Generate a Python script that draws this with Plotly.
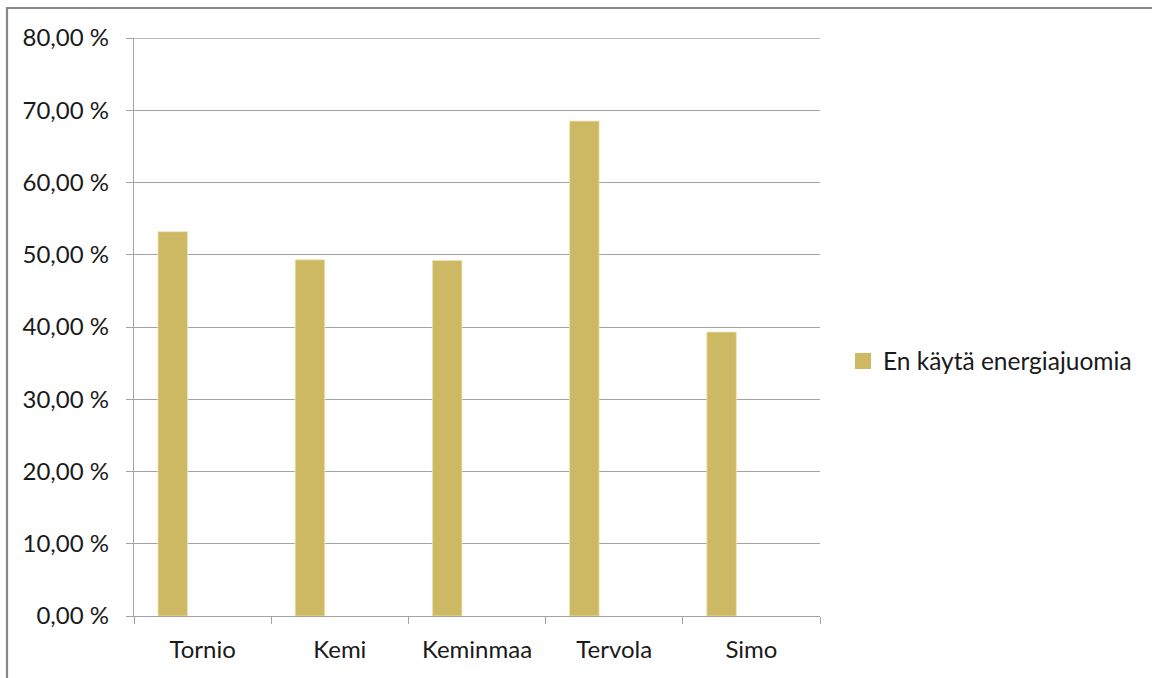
import plotly.graph_objects as go

# Kunnat ja osuudet (%)
kunnat = ["Tornio", "Kemi", "Keminmaa", "Tervola", "Simo"]
en_kayta = [53.2, 49.3, 49.2, 68.5, 39.3]
sarjan_nimi = "En käytä energiajuomia"

y_arvot = [0, 10, 20, 30, 40, 50, 60, 70, 80]
y_tekstit = ["0,00 %", "10,00 %", "20,00 %", "30,00 %", "40,00 %",
             "50,00 %", "60,00 %", "70,00 %", "80,00 %"]

W, H = 1152, 678
FONT = "Lato"
GRID = "#a3a3a3"
TEXT = "#1a1a1a"
BAR = "#cdb864"

fig = go.Figure()
fig.add_trace(go.Bar(
    x=kunnat, y=en_kayta, name=sarjan_nimi,
    marker=dict(color=BAR, line=dict(color="#efe3b0", width=0.8)),
    width=0.215, offset=-0.325,
    showlegend=False,
))
# legend entry with a larger square key
fig.add_trace(go.Scatter(
    x=[None], y=[None], mode="markers", name=sarjan_nimi,
    marker=dict(symbol="square", size=16, color=BAR),
    showlegend=True,
))

fig.update_layout(
    width=W, height=H,
    margin=dict(l=134, r=W - 820, t=38, b=H - 616),
    paper_bgcolor="white", plot_bgcolor="white",
    font=dict(family=FONT, size=24, color=TEXT),
    showlegend=True,
    legend=dict(
        xref="container", yref="container",
        x=843 / W, y=1 - 361 / H, xanchor="left", yanchor="middle",
        font=dict(family=FONT, size=24.5, color=TEXT),
        bgcolor="rgba(0,0,0,0)", itemwidth=30,
    ),
    xaxis=dict(
        type="category", range=[-0.5, 4.5],
        showline=True, linecolor=GRID, linewidth=1.3,
        ticks="outside", tickson="boundaries", ticklen=7,
        tickcolor=GRID, tickwidth=1.3,
        showgrid=False, ticklabelstandoff=12,
        tickfont=dict(family=FONT, size=24, color=TEXT),
    ),
    yaxis=dict(
        range=[0, 80], tickvals=y_arvot, ticktext=y_tekstit,
        showline=True, linecolor=GRID, linewidth=1.3,
        ticks="outside", ticklen=7, tickcolor=GRID, tickwidth=1.3,
        showgrid=True, gridcolor=GRID, gridwidth=1.3,
        zeroline=False, ticklabelstandoff=12,
        tickfont=dict(family=FONT, size=24, color=TEXT),
    ),
    shapes=[
        # top gridline at the axis maximum
        dict(type="line", xref="paper", yref="y", x0=0, x1=1,
             y0=y_arvot[-1], y1=y_arvot[-1],
             line=dict(color=GRID, width=1.3), layer="below"),
        # outer chart frame
        dict(type="rect", xref="paper", yref="paper",
             x0=-127 / 686, x1=1.6, y0=-0.2, y1=1 + 30 / 578,
             line=dict(color="#878787", width=2.2),
             fillcolor="rgba(0,0,0,0)", layer="below"),
    ],
)

fig.write_html("out.html")
